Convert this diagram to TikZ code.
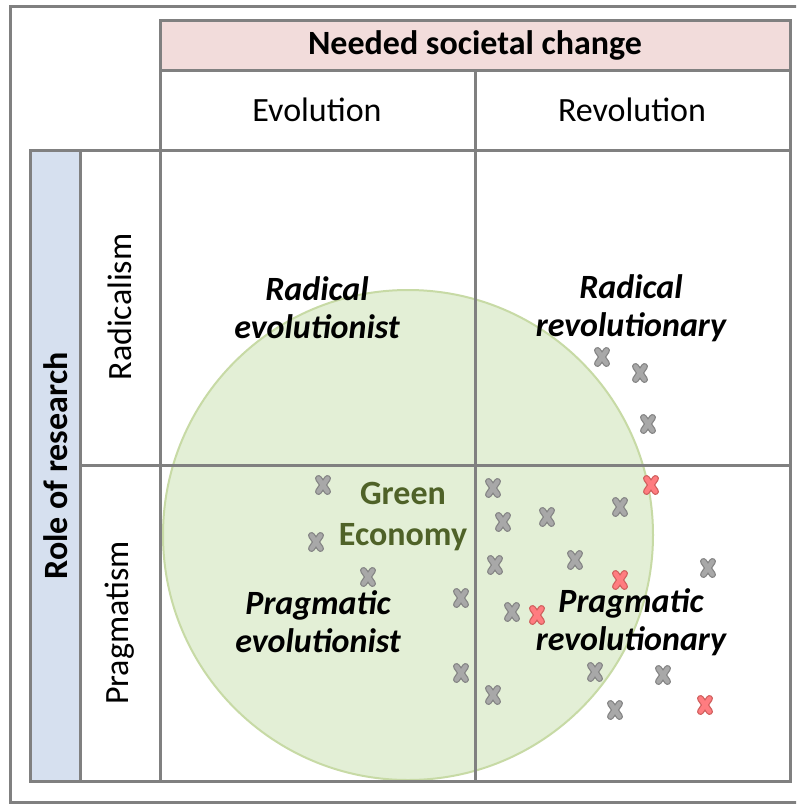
\documentclass[tikz,border=0pt]{standalone}
\usepackage{fontspec}
\setmainfont{Carlito}
\usepackage{tikz}
\usetikzlibrary{calc}
\definecolor{rr01}{HTML}{808080}
\definecolor{rr02}{HTML}{F2DCDB}
\definecolor{rr03}{HTML}{D6E0EF}
\definecolor{rr04}{HTML}{E3EFD6}
\definecolor{rr05}{HTML}{C7DAA5}
\definecolor{rr06}{HTML}{4F6228}
\definecolor{rr07}{HTML}{A8A8A8}
\definecolor{rr08}{HTML}{858585}
\definecolor{rr09}{HTML}{FF7C80}
\definecolor{rr10}{HTML}{D0605E}
\tikzset{
  gridline/.style={draw=rr01, line width=3pt},
  celltext/.style={font=\fontsize{34}{38}\selectfont, align=center},
  quadtext/.style={font=\fontsize{34}{38}\selectfont\bfseries\itshape, align=center},
  pics/vote/.style 2 args={code={
    \draw[#2, line width=7pt, line cap=round] (-4.5,-6.5) -- (4.5,6.5) (-4.5,6.5) -- (4.5,-6.5);
    \draw[#1, line width=4.5pt, line cap=round] (-4.5,-6.5) -- (4.5,6.5) (-4.5,6.5) -- (4.5,-6.5);
  }},
}

\begin{document}
\begin{tikzpicture}[x=1pt, y=-1pt]
            \clip (0,0) rectangle (796,804);
            \fill[white] (0,0) rectangle (796,804);
            % frame and headers
            \draw[gridline] (10,6) rectangle (812,802);
            \fill[rr02] (160,20) rectangle (790,70);
            \fill[rr03] (30,150) rectangle (80,781);
            \fill[rr04, draw=rr05, line width=2pt] (408,535) circle (245);
            \draw[gridline] (160,20) rectangle (790,781);
            \draw[gridline] (160,70) -- (790,70);
            \draw[gridline] (30,150) -- (790,150);
            \draw[gridline] (30,150) rectangle (80,781);
            \draw[gridline] (80,781) -- (160,781);
            \draw[gridline] (475,70) -- (475,781);
            \draw[gridline] (80,465) -- (790,465);
            \draw[gridline] (80,150) -- (80,781);
            % texts
            \node[celltext, font=\fontsize{34}{38}\selectfont\bfseries] (change) at (475,45) {Needed societal change};
            \node[celltext] (evol) at (317,110) {Evolution};
            \node[celltext] (revol) at (632,110) {Revolution};
            \node[celltext, font=\fontsize{34}{38}\selectfont\bfseries, rotate=90] (role) at (56,466) {Role of research};
            \node[celltext, rotate=90] (radic) at (120,307) {Radicalism};
            \node[celltext, rotate=90] (pragm) at (120,623) {Pragmatism};
            \node[quadtext] (radevol) at (317,308) {Radical\\evolutionist};
            \node[quadtext] (radrevol) at (631,308) {Radical\\revolutionary};
            \node[quadtext] (pragevol) at (318,622) {Pragmatic\\evolutionist};
            \node[quadtext] (pragrevol) at (631,622) {Pragmatic\\revolutionary};
            \node[celltext, font=\fontsize{34}{41}\selectfont\bfseries, text=rr06] (green) at (403,517) {Green\\Economy};
            % votes
            \pic at (602,357) {vote={rr07}{rr08}};
            \pic at (640,373) {vote={rr07}{rr08}};
            \pic at (648,424) {vote={rr07}{rr08}};
            \pic at (651,485) {vote={rr09}{rr10}};
            \pic at (493,488) {vote={rr07}{rr08}};
            \pic at (503,522) {vote={rr07}{rr08}};
            \pic at (547,517) {vote={rr07}{rr08}};
            \pic at (620,507) {vote={rr07}{rr08}};
            \pic at (495,565) {vote={rr07}{rr08}};
            \pic at (575,560) {vote={rr07}{rr08}};
            \pic at (620,580) {vote={rr09}{rr10}};
            \pic at (708,568) {vote={rr07}{rr08}};
            \pic at (512,612) {vote={rr07}{rr08}};
            \pic at (537,615) {vote={rr09}{rr10}};
            \pic at (595,672) {vote={rr07}{rr08}};
            \pic at (663,675) {vote={rr07}{rr08}};
            \pic at (493,695) {vote={rr07}{rr08}};
            \pic at (615,710) {vote={rr07}{rr08}};
            \pic at (705,705) {vote={rr09}{rr10}};
            \pic at (323,485) {vote={rr07}{rr08}};
            \pic at (316,542) {vote={rr07}{rr08}};
            \pic at (368,577) {vote={rr07}{rr08}};
            \pic at (461,598) {vote={rr07}{rr08}};
            \pic at (461,673) {vote={rr07}{rr08}};
        \end{tikzpicture}
\end{document}
